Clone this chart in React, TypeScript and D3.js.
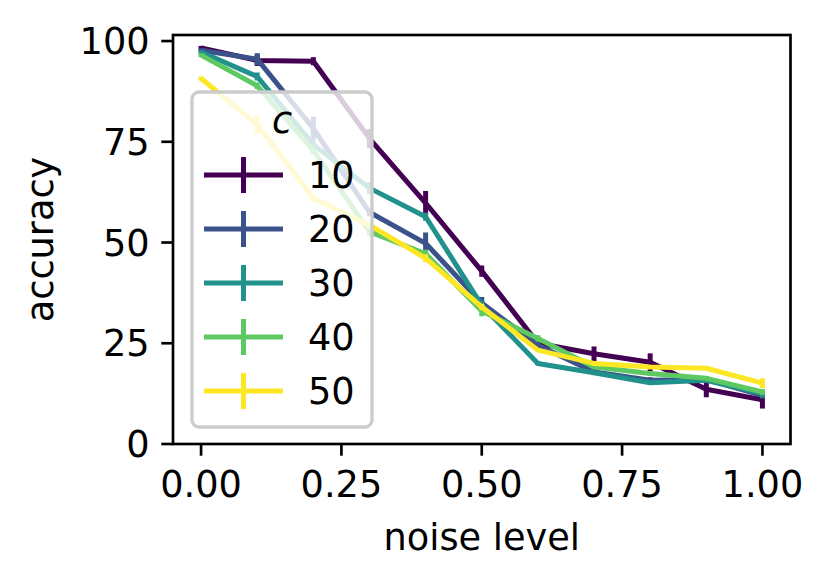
import React, { useEffect, useRef } from "react";
import * as d3 from "d3";

// noise levels on the x axis
const noise = [0, 0.1, 0.2, 0.3, 0.4, 0.5, 0.6, 0.7, 0.8, 0.9, 1.0];

const cValues = [10, 20, 30, 40, 50];

const acc10 = [98.3, 95.2, 95.0, 75.8, 59.8, 42.9, 25.0, 22.4, 20.3, 13.6, 11.0];
const err10 = [0.5, 1.4, 1.0, 2.4, 3.0, 1.4, 0.8, 1.8, 2.2, 2.0, 2.2];
const acc20 = [97.7, 95.5, 78.3, 57.5, 49.8, 35.0, 24.5, 17.9, 15.8, 16.0, 12.1];
const err20 = [0.5, 1.5, 2.9, 1.0, 2.7, 1.5, 0.8, 0.8, 0.8, 0.8, 0.8];
const acc30 = [97.3, 91.2, 74.3, 63.5, 56.4, 34.4, 20.0, 17.7, 15.2, 15.8, 12.5];
const err30 = [0.5, 1.0, 1.0, 1.5, 1.0, 1.0, 0.5, 0.5, 0.5, 0.5, 1.0];
const acc40 = [96.5, 88.9, 72.8, 52.7, 47.2, 33.0, 26.2, 19.1, 17.5, 16.3, 12.9];
const err40 = [0.5, 0.8, 0.8, 1.2, 1.0, 1.3, 0.8, 0.5, 0.5, 0.5, 0.7];
const acc50 = [90.7, 79.3, 61.0, 54.3, 46.1, 34.0, 23.3, 20.0, 19.1, 18.8, 15.1];
const err50 = [0.5, 2.3, 0.8, 0.8, 1.0, 0.8, 0.5, 0.5, 0.5, 0.5, 1.2];

const xTicks = [0, 0.25, 0.5, 0.75, 1.0];
const yTicks = [0, 25, 50, 75, 100];

const colors = ["#440154", "#3b528b", "#21918c", "#5ec962", "#fde725"];

const App: React.FC = () => {
  const svgRef = useRef<SVGSVGElement>(null);

  useEffect(() => {
    if (!svgRef.current) return;
    const svg = d3.select(svgRef.current);
    svg.selectAll("*").remove();

    const width = 831;
    const height = 584;
    const left = 173, right = 790.5, top = 35, bottom = 444;
    const font = "DejaVu Sans, sans-serif";
    const fs = 36.7;
    const lw = 5;

    const x = d3.scaleLinear().domain([-0.05, 1.05]).range([left, right]);
    const y = d3.scaleLinear().domain([0, 101.5]).range([bottom, top]);

    svg.attr("width", width).attr("height", height);
    svg.append("rect").attr("width", width).attr("height", height).attr("fill", "#fff");

    const series = [
      { c: cValues[0], acc: acc10, err: err10 },
      { c: cValues[1], acc: acc20, err: err20 },
      { c: cValues[2], acc: acc30, err: err30 },
      { c: cValues[3], acc: acc40, err: err40 },
      { c: cValues[4], acc: acc50, err: err50 },
    ];

    const line = d3.line<number>()
      .x((_, i) => x(noise[i]))
      .y(d => y(d));

    const plot = svg.append("g");
    series.forEach((s, si) => {
      plot.append("path")
        .attr("d", line(s.acc))
        .attr("fill", "none")
        .attr("stroke", colors[si])
        .attr("stroke-width", lw)
        .attr("stroke-linejoin", "round");
      plot.selectAll(null)
        .data(s.acc)
        .enter().append("line")
        .attr("x1", (_, i) => x(noise[i]))
        .attr("x2", (_, i) => x(noise[i]))
        .attr("y1", (d, i) => y(d - s.err[i]))
        .attr("y2", (d, i) => y(d + s.err[i]))
        .attr("stroke", colors[si])
        .attr("stroke-width", lw);
    });

    // spines
    svg.append("rect")
      .attr("x", left).attr("y", top)
      .attr("width", right - left).attr("height", bottom - top)
      .attr("fill", "none").attr("stroke", "#000").attr("stroke-width", 2.67);

    const tickLen = 11.7;
    const pad = 11.7;

    xTicks.forEach(t => {
      svg.append("line")
        .attr("x1", x(t)).attr("x2", x(t))
        .attr("y1", bottom).attr("y2", bottom + tickLen)
        .attr("stroke", "#000").attr("stroke-width", 2.67);
      svg.append("text")
        .attr("x", x(t)).attr("y", 497)
        .attr("text-anchor", "middle")
        .attr("font-family", font).attr("font-size", fs)
        .text(d3.format(".2f")(t));
    });

    yTicks.forEach(t => {
      svg.append("line")
        .attr("x1", left - tickLen).attr("x2", left)
        .attr("y1", y(t)).attr("y2", y(t))
        .attr("stroke", "#000").attr("stroke-width", 2.67);
      svg.append("text")
        .attr("x", left - tickLen - pad).attr("y", y(t))
        .attr("dy", "0.36em")
        .attr("text-anchor", "end")
        .attr("font-family", font).attr("font-size", fs)
        .text(t);
    });

    svg.append("text")
      .attr("x", (left + right) / 2).attr("y", 550)
      .attr("text-anchor", "middle")
      .attr("font-family", font).attr("font-size", fs)
      .text("noise level");

    svg.append("text")
      .attr("transform", `translate(53, ${(top + bottom) / 2}) rotate(-90)`)
      .attr("text-anchor", "middle")
      .attr("font-family", font).attr("font-size", fs)
      .text("accuracy");

    // legend
    const lg = svg.append("g");
    lg.append("rect")
      .attr("x", 192).attr("y", 92)
      .attr("width", 180).attr("height", 335)
      .attr("rx", 7).attr("ry", 7)
      .attr("fill", "#fff").attr("fill-opacity", 0.8)
      .attr("stroke", "#cccccc").attr("stroke-width", 3.3);

    lg.append("text")
      .attr("x", 282).attr("y", 133)
      .attr("text-anchor", "middle")
      .attr("font-family", font).attr("font-style", "italic").attr("font-size", fs)
      .text("c");

    series.forEach((s, si) => {
      const cy = 175 + si * 54;
      lg.append("line")
        .attr("x1", 204).attr("x2", 283)
        .attr("y1", cy).attr("y2", cy)
        .attr("stroke", colors[si]).attr("stroke-width", lw);
      lg.append("line")
        .attr("x1", 243.5).attr("x2", 243.5)
        .attr("y1", cy - 18).attr("y2", cy + 18)
        .attr("stroke", colors[si]).attr("stroke-width", lw);
      lg.append("text")
        .attr("x", 308).attr("y", cy + 13)
        .attr("font-family", font).attr("font-size", fs)
        .text(s.c);
    });
  }, []);

  return (
    <svg
      ref={svgRef}
      width={831}
      height={584}
      style={{ position: "absolute", left: 0, top: 0, display: "block" }}
    />
  );
};

export default App;
